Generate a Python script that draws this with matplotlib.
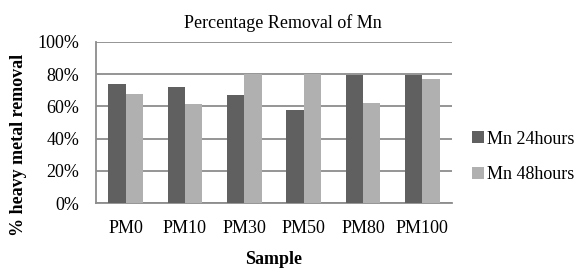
import numpy as np
import matplotlib.pyplot as plt
from matplotlib.ticker import PercentFormatter

samples = ["PM0", "PM10", "PM30", "PM50", "PM80", "PM100"]
mn_24h = [73.7, 71.9, 67.3, 57.8, 79.3, 79.7]
mn_48h = [67.5, 61.5, 80.0, 80.0, 61.9, 76.8]

plt.rcParams['font.family'] = ['Liberation Serif', 'DejaVu Serif']

fig = plt.figure(figsize=(5.76, 2.68), dpi=100)
ax = fig.add_axes([96/576, 1 - 203/268, 356/576, 161/268])

x = np.arange(len(samples))
w = 0.292
ax.bar(x - w/2, mn_24h, w, color='#606060', label='Mn 24hours', zorder=3)
ax.bar(x + w/2, mn_48h, w, color='#b0b0b0', label='Mn 48hours', zorder=3)

ax.set_xlim(-0.5, len(samples) - 0.5)
ax.set_ylim(0, 100)
ax.set_yticks(range(0, 101, 20))
ax.yaxis.set_major_formatter(PercentFormatter(decimals=0))
ax.set_xticks(x)
ax.set_xticklabels(samples)
ax.tick_params(axis='both', length=0, labelsize=13, colors='black')
ax.tick_params(axis='x', pad=12)
ax.tick_params(axis='y', pad=12)
ax.grid(axis='y', color='#8c8c8c', linewidth=1.3, zorder=0)
for s in ['top', 'right']:
    ax.spines[s].set_visible(False)
ax.spines['left'].set_color('#8c8c8c')
ax.spines['bottom'].set_color('#8c8c8c')
ax.spines['left'].set_linewidth(1.3)
ax.spines['bottom'].set_linewidth(1.3)

fig.text(283/576, 1 - 23/268, "Percentage Removal of Mn", ha='center', va='center', fontsize=13)
fig.text(19/576, 1 - 145/268, "% heavy metal removal", ha='center', va='center',
         rotation=90, fontsize=13, fontweight='bold')
fig.text(274/576, 1 - 259/268, "Sample", ha='center', va='center', fontsize=13, fontweight='bold')

ax.legend(loc='center left', bbox_to_anchor=(472/576, 1 - 157/268), bbox_transform=fig.transFigure,
          frameon=False, fontsize=13, handlelength=0.65, handleheight=0.65, handletextpad=0.2,
          labelspacing=1.05, borderaxespad=0, borderpad=0)

fig.savefig("out.png", dpi=100)
